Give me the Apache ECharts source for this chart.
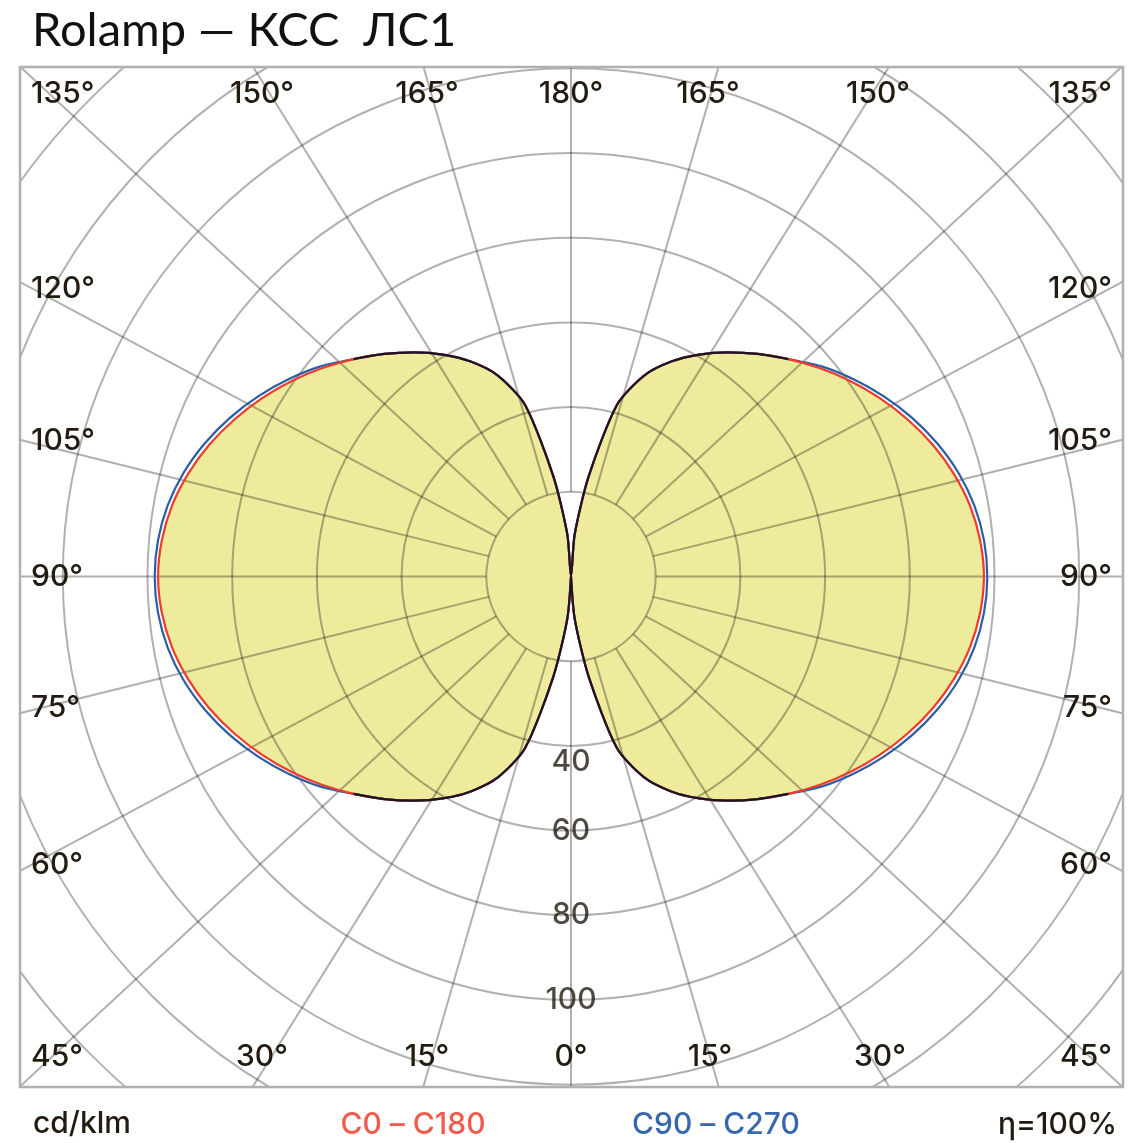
<!DOCTYPE html>
<html>
<head>
<meta charset="utf-8">
<script src="https://cdn.jsdelivr.net/npm/echarts@6/dist/echarts.min.js"></script>
<style>
html, body { margin: 0; padding: 0; background: #fff; }
#chart { width: 1143px; height: 1143px; }
</style>
</head>
<body>
<div id="chart"></div>
<script>
// gamma angles, 0 = nadir (bottom), 180 = zenith (top)
var gammaDeg = [0, 5, 10, 15, 20, 25, 30, 35, 40, 45, 50, 55, 60, 65, 70, 75, 80, 85, 90,
    95, 100, 105, 110, 115, 120, 125, 130, 135, 140, 145, 150, 155, 160, 165, 170, 175, 180];
// cd/klm
var c0c180 = [0, 10, 24, 42, 50.5, 56, 60.5, 64.6, 68.6, 72.6, 76.6, 80.5, 84.2, 87.7, 90.9, 93.6, 95.7, 97, 97.5,
    97, 95.7, 93.6, 90.9, 87.7, 84.2, 80.5, 76.6, 72.6, 68.6, 64.6, 60.5, 56, 50.5, 42, 24, 10, 0];
var c90c270 = [0, 10, 24, 42, 50.5, 56, 60.5, 64.6, 68.6, 72.6, 77.2, 81.3, 85.2, 88.8, 92, 94.7, 96.7, 97.9, 98.3,
    97.9, 96.7, 94.7, 92, 88.8, 85.2, 81.3, 77.2, 72.6, 68.6, 64.6, 60.5, 56, 50.5, 42, 24, 10, 0];
var ringValues = [20, 40, 60, 80, 100, 120, 140, 160, 180];
var ringLabels = [40, 60, 80, 100];
var spokeDeg = [0, 15, 30, 45, 60, 75, 90, 105, 120, 135, 150, 165, 180];

var topLabels = ['135°', '150°', '165°', '180°', '165°', '150°', '135°'];
var sideLabels = ['120°', '105°', '90°', '75°', '60°'];
var bottomLabels = ['45°', '30°', '15°', '0°', '15°', '30°', '45°'];

var chart = echarts.init(document.getElementById('chart'));

var CX = 571, CY = 576.5, RMAX = 180, PX = 4.235;
var STRETCH = 551 / 510; // spokes end on the box, not on a circle
var gridColor = 'rgba(0,0,0,0.31)'; // drawn over the fill, so it darkens inside the lobes
var boxColor = '#b0b0b0';
var textColor = '#231a10';
var labelFont = '500 30px Inter';

// full curve: right side C0 / C90, left side C180 / C270
function lobe(vals) {
    var out = [];
    for (var i = 0; i < gammaDeg.length; i++) out.push([vals[i], gammaDeg[i]]);
    for (var j = gammaDeg.length - 1; j >= 0; j--) out.push([vals[j], 360 - gammaDeg[j]]);
    return out;
}
// where both planes have the same value the outline is dark
function common() {
    var out = [];
    for (var i = 0; i < gammaDeg.length; i++)
        out.push(c0c180[i] === c90c270[i] ? [c0c180[i], gammaDeg[i]] : [null, gammaDeg[i]]);
    for (var j = gammaDeg.length - 1; j >= 0; j--)
        out.push(c0c180[j] === c90c270[j] ? [c0c180[j], 360 - gammaDeg[j]] : [null, 360 - gammaDeg[j]]);
    return out;
}

var series = [];
spokeDeg.forEach(function (d) {
    var t = d * Math.PI / 180;
    var a = Math.atan2(STRETCH * Math.sin(t), Math.cos(t)) * 180 / Math.PI;
    var angs = (d === 0 || d === 180) ? [a] : [a, 360 - a];
    angs.forEach(function (ang) {
        series.push({
            type: 'line', coordinateSystem: 'polar', silent: true, symbol: 'none', z: 11,
            lineStyle: { color: gridColor, width: 2 },
            data: [[20, ang], [RMAX, ang]]
        });
    });
});

var SMOOTH = 0.25;
series.push({
    name: 'fill', type: 'line', coordinateSystem: 'polar', symbol: 'none', z: 3, smooth: SMOOTH,
    lineStyle: { width: 0 },
    areaStyle: { color: '#efeb9c', opacity: 1 },
    data: lobe(c0c180)
});
series.push({
    name: 'C90 – C270', type: 'line', coordinateSystem: 'polar', symbol: 'none', z: 20, smooth: SMOOTH,
    lineStyle: { color: '#2b5ca6', width: 2.2 },
    data: lobe(c90c270)
});
series.push({
    name: 'C0 – C180', type: 'line', coordinateSystem: 'polar', symbol: 'none', z: 21, smooth: SMOOTH,
    lineStyle: { color: '#ee3b2b', width: 2.2 },
    data: lobe(c0c180)
});
series.push({
    name: 'common', type: 'line', coordinateSystem: 'polar', symbol: 'none', z: 22, smooth: SMOOTH,
    connectNulls: false,
    lineStyle: { color: '#1a1424', width: 2.2 },
    data: common()
});
series.push({
    type: 'scatter', coordinateSystem: 'polar', symbolSize: 0, z: 23, silent: true,
    label: {
        show: true, position: 'inside', color: textColor,
        fontSize: 30, fontFamily: 'Inter', fontWeight: 500,
        formatter: function (p) { return String(p.value[0]); }
    },
    data: ringLabels.map(function (v) {
        return v === 40 ? { value: [v, 0], label: { offset: [0, 16] } } : { value: [v, 0] };
    })
});

function txt(s, x, y, align, fill, font) {
    return {
        type: 'text', x: x, y: y, z: 101,
        style: { text: s, fill: fill || textColor, font: font || labelFont, textAlign: align, textVerticalAlign: 'middle' }
    };
}

var graphics = [
    { type: 'rect', z: 100, shape: { x: 0, y: 0, width: 1143, height: 66 }, style: { fill: '#fff' } },
    { type: 'rect', z: 100, shape: { x: 0, y: 1088, width: 1143, height: 55 }, style: { fill: '#fff' } },
    { type: 'rect', z: 100, shape: { x: 0, y: 0, width: 19, height: 1143 }, style: { fill: '#fff' } },
    { type: 'rect', z: 100, shape: { x: 1124, y: 0, width: 19, height: 1143 }, style: { fill: '#fff' } },
    { type: 'rect', z: 100, shape: { x: 20, y: 67, width: 1103, height: 1020 }, style: { fill: null, stroke: boxColor, lineWidth: 2.5 } }
];

var topX = [31, 262, 427, 571, 708, 878, 1112];
var botX = [31, 262, 427, 571, 710, 880, 1112];
var sideY = [289, 441, 577, 708, 865];
topLabels.forEach(function (s, i) {
    graphics.push(txt(s, topX[i], 94, i === 0 ? 'left' : (i === 6 ? 'right' : 'center')));
});
bottomLabels.forEach(function (s, i) {
    graphics.push(txt(s, botX[i], 1057, i === 0 ? 'left' : (i === 6 ? 'right' : 'center')));
});
sideLabels.forEach(function (s, i) {
    graphics.push(txt(s, 31, sideY[i], 'left'));
    graphics.push(txt(s, 1112, sideY[i], 'right'));
});

graphics.push(txt('Rolamp — КСС  ЛС1', 32, 31, 'left', '#111', '47px Lato'));
graphics.push(txt('cd/klm', 33, 1124, 'left'));
graphics.push(txt('C0 – C180', 413, 1125, 'center', '#f25a4c'));
graphics.push(txt('C90 – C270', 716, 1125, 'center', '#3767ae'));
graphics.push(txt('η=100%', 1117, 1125, 'right'));

chart.setOption({
    animation: false,
    polar: { center: [CX, CY], radius: RMAX * PX },
    angleAxis: {
        type: 'value', min: 0, max: 360, startAngle: 270, clockwise: false,
        axisLine: { show: false }, axisTick: { show: false }, axisLabel: { show: false },
        splitLine: { show: false }
    },
    radiusAxis: {
        type: 'value', min: 0, max: RMAX, interval: 20, z: 10,
        axisLine: { show: false }, axisTick: { show: false }, axisLabel: { show: false },
        splitLine: { show: true, lineStyle: { color: gridColor, width: 2 } }
    },
    graphic: graphics,
    series: series
});
</script>
</body>
</html>
